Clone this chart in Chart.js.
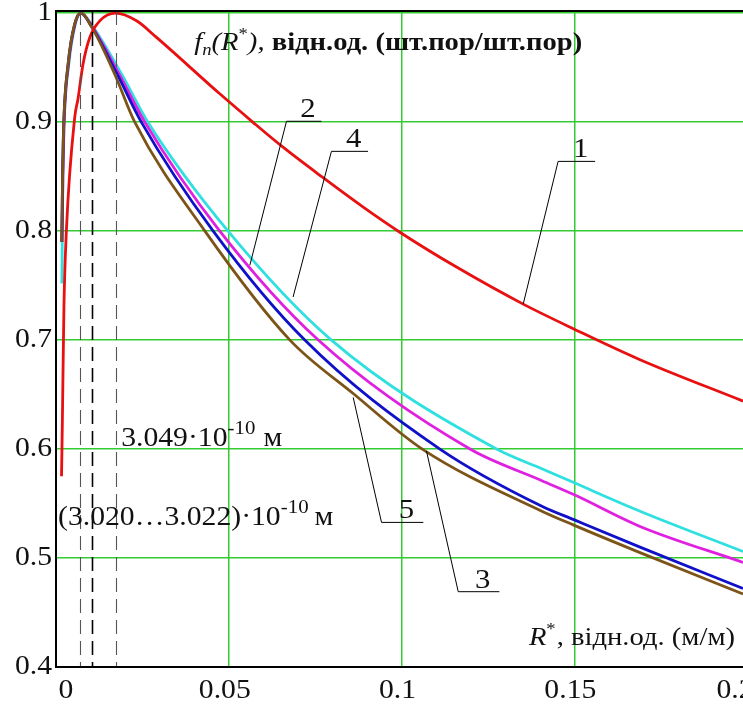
<!DOCTYPE html>
<html>
<head>
<meta charset="utf-8">
<script src="https://cdn.jsdelivr.net/npm/chart.js@4/dist/chart.umd.min.js"></script>
<style>
  html, body { margin: 0; padding: 0; background: #fff; overflow: hidden; }
</style>
</head>
<body>
<canvas id="chart" width="743" height="704"></canvas>
<script>
// f_n(R*) curves, R* in relative units
const c1X = [0.0016, 0.00185, 0.0023, 0.0030, 0.0054, 0.0064, 0.0078, 0.0098, 0.0127, 0.0172, 0.0233, 0.0290, 0.0474, 0.0566, 0.0657, 0.0773, 0.0889, 0.0995, 0.1159, 0.1352, 0.1500, 0.1690, 0.1988];
const c1Y = [0.575, 0.627, 0.731, 0.800, 0.904, 0.922, 0.953, 0.978, 0.993, 1.000, 0.993, 0.978, 0.926, 0.901, 0.877, 0.849, 0.822, 0.799, 0.767, 0.733, 0.710, 0.682, 0.644];

const c2X = [0.0017, 0.0020, 0.0023, 0.0036, 0.0055, 0.0072, 0.0104, 0.0183, 0.0257, 0.0474, 0.0759, 0.1198, 0.1406, 0.1500, 0.1690, 0.1988];
const c2Y = [0.790, 0.850, 0.895, 0.953, 0.990, 1.000, 0.988, 0.944, 0.900, 0.800, 0.700, 0.600, 0.571, 0.558, 0.529, 0.496];

const c3X = [0.0017, 0.0019, 0.0022, 0.0035, 0.0054, 0.0072, 0.0104, 0.0177, 0.0247, 0.0455, 0.0720, 0.1111, 0.1406, 0.1500, 0.1690, 0.1988];
const c3Y = [0.790, 0.850, 0.895, 0.953, 0.990, 1.000, 0.987, 0.944, 0.900, 0.800, 0.700, 0.600, 0.5475, 0.535, 0.510, 0.472];

const c4X = [0.0017, 0.0020, 0.0023, 0.0037, 0.0056, 0.0072, 0.0106, 0.0190, 0.0266, 0.0498, 0.0797, 0.1275, 0.1406, 0.1500, 0.1690, 0.1988];
const c4Y = [0.752, 0.850, 0.895, 0.953, 0.990, 1.000, 0.988, 0.944, 0.900, 0.800, 0.700, 0.600, 0.582, 0.569, 0.543, 0.506];

const c5X = [0.00165, 0.0019, 0.0022, 0.0035, 0.0054, 0.0072, 0.0104, 0.0170, 0.0228, 0.0431, 0.0677, 0.0860, 0.1060, 0.1406, 0.1500, 0.1690, 0.1988];
const c5Y = [0.790, 0.850, 0.895, 0.953, 0.990, 1.000, 0.987, 0.944, 0.900, 0.800, 0.700, 0.651, 0.600, 0.543, 0.530, 0.505, 0.467];

// axes
const xMin = 0, xMax = 0.1988;
const yMin = 0.4, yMax = 1.002;
const xTicks = [0, 0.05, 0.1, 0.15, 0.2];
const xTickLabels = ['0', '0.05', '0.1', '0.15', '0.2'];
const yTicks = [0.4, 0.5, 0.6, 0.7, 0.8, 0.9, 1];
const yTickLabels = ['0.4', '0.5', '0.6', '0.7', '0.8', '0.9', '1'];

// peak positions (dashed verticals)
const peakLinesX = [0.0069, 0.0104, 0.0174];
const peakLinesDark = [false, true, false];

// curve callouts: curve point, knee, shelf end x, label
const calloutNames = ['1', '2', '4', '5', '3'];
const calloutFrom = [[0.1352, 0.733], [0.0561, 0.7687], [0.0686, 0.7395], [0.0860, 0.6474], [0.1072, 0.5982]];
const calloutKnee = [[0.1453, 0.864], [0.0667, 0.9008], [0.0797, 0.8732], [0.0942, 0.5327], [0.1164, 0.4691]];
const calloutEnd = [0.156, 0.0768, 0.0903, 0.1063, 0.1283];

const serif = "'Liberation Serif', 'Times New Roman', serif";
const SX = 1.1; // glyphs are a bit wider than plain Times

function pts(xs, ys) {
  return xs.map((x, i) => ({ x: x, y: ys[i] }));
}

function wideText(ctx, text, x, y, align) {
  ctx.save();
  ctx.translate(x, y);
  ctx.scale(SX, 1);
  ctx.textAlign = align || 'left';
  ctx.fillText(text, 0, 0);
  ctx.restore();
}

function drawRuns(ctx, x, y, runs) {
  for (const r of runs) {
    ctx.font = r.font;
    wideText(ctx, r.t, x, y + (r.dy || 0), 'left');
    x += ctx.measureText(r.t).width * SX + (r.gap || 0);
  }
  return x;
}

function runsWidth(ctx, runs) {
  let w = 0;
  for (const r of runs) {
    ctx.font = r.font;
    w += ctx.measureText(r.t).width * SX + (r.gap || 0);
  }
  return w;
}

const overlay = {
  id: 'overlay',
  afterDatasetsDraw(chart) {
    const ctx = chart.ctx;
    const xs = chart.scales.x, ys = chart.scales.y;
    const area = chart.chartArea;
    ctx.save();

    // dashed verticals at the maxima
    peakLinesX.forEach((v, i) => {
      const px = Math.round(xs.getPixelForValue(v)) + 0.5;
      ctx.beginPath();
      ctx.setLineDash([14, 7]);
      ctx.strokeStyle = peakLinesDark[i] ? '#000' : '#555';
      ctx.lineWidth = peakLinesDark[i] ? 1.6 : 1.1;
      ctx.moveTo(px, area.top);
      ctx.lineTo(px, area.bottom);
      ctx.stroke();
    });
    ctx.setLineDash([]);

    // frame: left, top, bottom
    ctx.strokeStyle = '#000';
    ctx.lineWidth = 2;
    ctx.beginPath();
    ctx.moveTo(area.right, area.top);
    ctx.lineTo(area.left, area.top);
    ctx.lineTo(area.left, area.bottom);
    ctx.lineTo(area.right, area.bottom);
    ctx.stroke();

    // callouts
    ctx.lineWidth = 1;
    ctx.fillStyle = '#111';
    ctx.textBaseline = 'alphabetic';
    ctx.font = '28px ' + serif;
    calloutNames.forEach((name, i) => {
      const p0x = xs.getPixelForValue(calloutFrom[i][0]), p0y = ys.getPixelForValue(calloutFrom[i][1]);
      const p1x = xs.getPixelForValue(calloutKnee[i][0]), p1y = ys.getPixelForValue(calloutKnee[i][1]);
      const p2x = xs.getPixelForValue(calloutEnd[i]);
      ctx.beginPath();
      ctx.moveTo(p0x, p0y);
      ctx.lineTo(p1x, p1y);
      ctx.lineTo(p2x, p1y);
      ctx.stroke();
      wideText(ctx, name, (p1x + p2x) / 2 + 4, p1y - 4, 'center');
    });

    // tick labels
    ctx.font = '27px ' + serif;
    ctx.textBaseline = 'middle';
    yTicks.forEach((v, i) => {
      wideText(ctx, yTickLabels[i], area.left - 4, ys.getPixelForValue(v), 'right');
    });
    xTicks.forEach((v, i) => {
      let px = xs.getPixelForValue(v) - 4;
      px = Math.min(Math.max(px, area.left + 10), chart.width - 8);
      wideText(ctx, xTickLabels[i], px, area.bottom + 24, 'center');
    });

    // notes at the maxima
    ctx.textBaseline = 'alphabetic';
    const big = '27px ' + serif, small = '19px ' + serif;
    drawRuns(ctx, xs.getPixelForValue(peakLinesX[2]) + 5, ys.getPixelForValue(0.6) - 3, [
      { t: '3.049·10', font: big },
      { t: '-10', font: small, dy: -12, gap: 8 },
      { t: 'м', font: big }
    ]);
    drawRuns(ctx, area.left + 2, ys.getPixelForValue(0.5306), [
      { t: '(3.020…3.022)·10', font: big },
      { t: '-10', font: small, dy: -12, gap: 6 },
      { t: 'м', font: big }
    ]);

    // y axis title
    const it = 'italic 26px ' + serif;
    drawRuns(ctx, xs.getPixelForValue(0.04), ys.getPixelForValue(0.966), [
      { t: 'f', font: it },
      { t: 'n', font: 'italic 17px ' + serif, dy: 5 },
      { t: '(R', font: it },
      { t: '*', font: '17px ' + serif, dy: -11 },
      { t: '), ', font: it },
      { t: 'відн.од. (шт.пор/шт.пор)', font: 'bold 26px ' + serif }
    ]);

    // x axis title, right aligned
    const xt = [
      { t: 'R', font: 'italic 26px ' + serif },
      { t: '*', font: '17px ' + serif, dy: -11, gap: 1 },
      { t: ', відн.од. (м/м)', font: '26px ' + serif }
    ];
    drawRuns(ctx, area.right - 8 - runsWidth(ctx, xt), ys.getPixelForValue(0.4) - 22, xt);

    ctx.restore();
  }
};

const lineStyle = {
  pointRadius: 0,
  borderWidth: 2.8,
  cubicInterpolationMode: 'monotone',
  fill: false
};

new Chart(document.getElementById('chart'), {
  type: 'line',
  data: {
    datasets: [
      Object.assign({ label: '1', data: pts(c1X, c1Y), borderColor: '#e81010' }, lineStyle),
      Object.assign({ label: '5', data: pts(c5X, c5Y), borderColor: '#7d5418' }, lineStyle),
      Object.assign({ label: '3', data: pts(c3X, c3Y), borderColor: '#1010c8' }, lineStyle),
      Object.assign({ label: '2', data: pts(c2X, c2Y), borderColor: '#e020e0' }, lineStyle),
      Object.assign({ label: '4', data: pts(c4X, c4Y), borderColor: '#30e0e0' }, lineStyle)
    ]
  },
  options: {
    responsive: false,
    animation: false,
    devicePixelRatio: 1,
    layout: { padding: { top: 11, right: 0, bottom: 0, left: 0 } },
    plugins: { legend: { display: false }, tooltip: { enabled: false } },
    scales: {
      x: {
        type: 'linear',
        min: xMin,
        max: xMax,
        afterBuildTicks: (axis) => { axis.ticks = xTicks.filter(v => v <= xMax).map(v => ({ value: v })); },
        afterFit: (axis) => { axis.height = 37; },
        ticks: { display: false },
        border: { display: false },
        grid: {
          color: (c) => (c.tick && c.tick.value === 0 ? 'rgba(0,0,0,0)' : '#33cc33'),
          lineWidth: 1.5,
          drawTicks: false
        }
      },
      y: {
        min: yMin,
        max: yMax,
        afterBuildTicks: (axis) => { axis.ticks = yTicks.map(v => ({ value: v })); },
        afterFit: (axis) => { axis.width = 56; },
        ticks: { display: false },
        border: { display: false },
        grid: {
          color: (c) => (c.tick && c.tick.value === 0.4 ? 'rgba(0,0,0,0)' : '#33cc33'),
          lineWidth: 1.5,
          drawTicks: false
        }
      }
    }
  },
  plugins: [overlay]
});
</script>
</body>
</html>
